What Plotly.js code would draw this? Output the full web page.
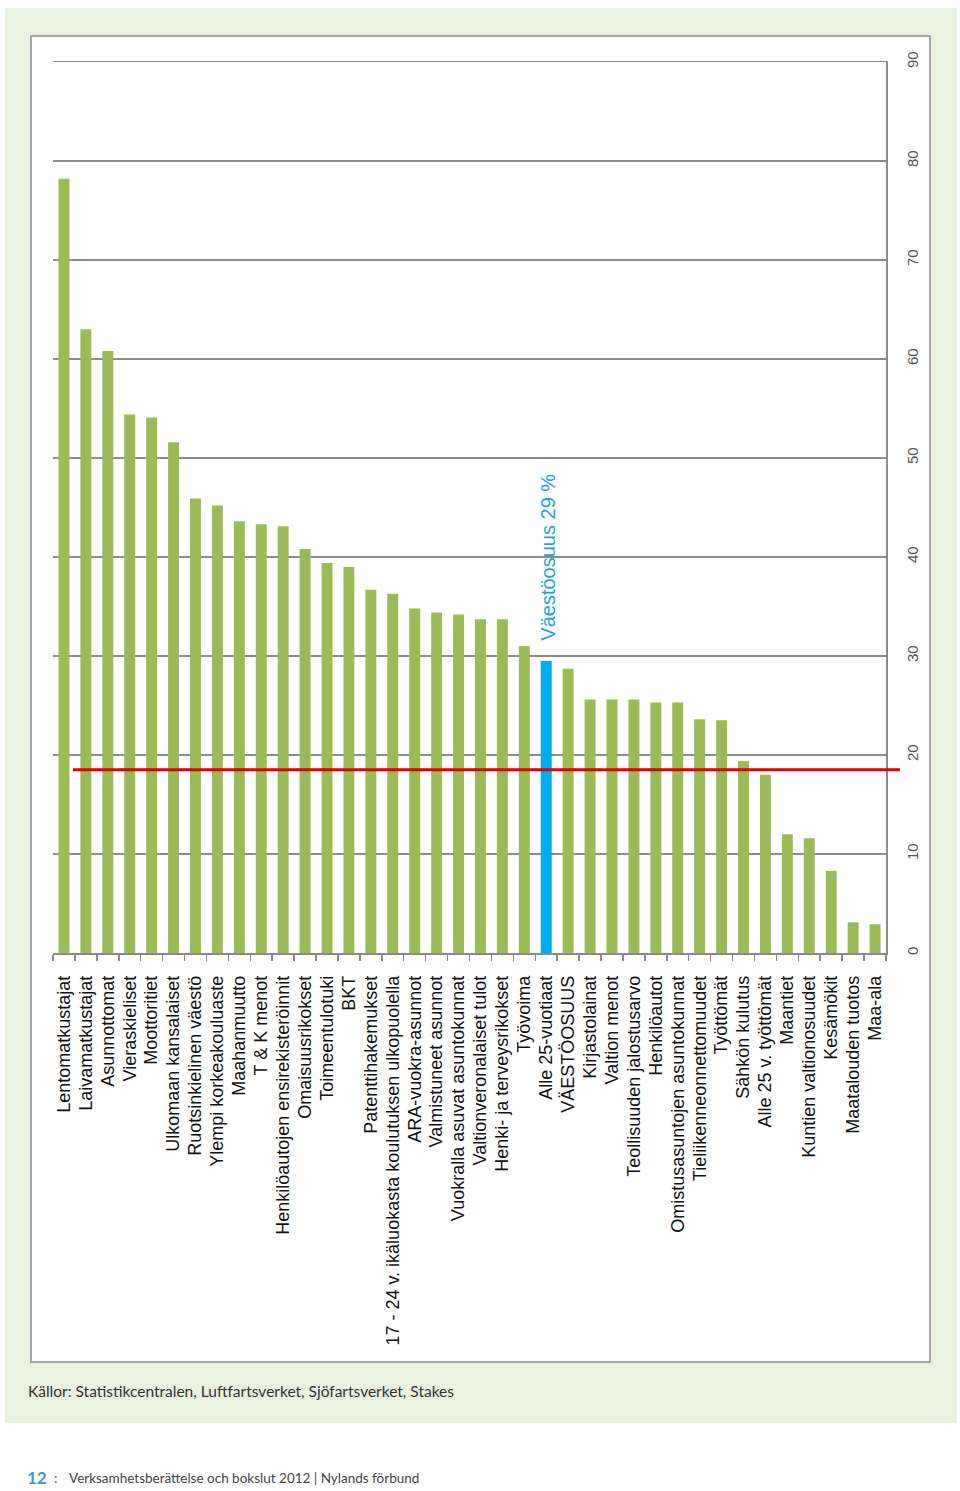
<!DOCTYPE html>
<html>
<head>
<meta charset="utf-8">
<script src="https://cdn.plot.ly/plotly-3.0.1.min.js"></script>
<style>
  html, body { margin: 0; padding: 0; background: #ffffff; }
  #chart { width: 960px; height: 1491px; }
</style>
</head>
<body>
<div id="chart"></div>
<script>
// ---- Data ----
const categories = [
  "Lentomatkustajat",
  "Laivamatkustajat",
  "Asunnottomat",
  "Vieraskieliset",
  "Moottoritiet",
  "Ulkomaan kansalaiset",
  "Ruotsinkielinen väestö",
  "Ylempi korkeakouluaste",
  "Maahanmuutto",
  "T & K menot",
  "Henkilöautojen ensirekisteröinnit",
  "Omaisuusrikokset",
  "Toimeentulotuki",
  "BKT",
  "Patenttihakemukset",
  "17 - 24 v. ikäluokasta koulutuksen ulkopuolella",
  "ARA-vuokra-asunnot",
  "Valmistuneet asunnot",
  "Vuokralla asuvat asuntokunnat",
  "Valtionveronalaiset tulot",
  "Henki- ja terveysrikokset",
  "Työvoima",
  "Alle 25-vuotiaat",
  "VÄESTÖOSUUS",
  "Kirjastolainat",
  "Valtion menot",
  "Teollisuuden jalostusarvo",
  "Henkilöautot",
  "Omistusasuntojen asuntokunnat",
  "Tieliikenneonnettomuudet",
  "Työttömät",
  "Sähkön kulutus",
  "Alle 25 v. työttömät",
  "Maantiet",
  "Kuntien valtionosuudet",
  "Kesämökit",
  "Maatalouden tuotos",
  "Maa-ala"
];
const values = [
  78.2, 63.0, 60.8, 54.4, 54.1, 51.6, 45.9, 45.2, 43.6, 43.3,
  43.1, 40.8, 39.4, 39.0, 36.7, 36.3, 34.8, 34.4, 34.2, 33.7,
  33.7, 31.0, 29.5, 28.7, 25.6, 25.6, 25.6, 25.3, 25.3, 23.6,
  23.5, 19.4, 18.0, 12.0, 11.6, 8.3, 3.1, 2.9
];
const highlightCategory = "Alle 25-vuotiaat";
const highlightLabel = "Väestöosuus 29 %";
const thresholdValue = 18.5;
const yTickValues = [0, 10, 20, 30, 40, 50, 60, 70, 80, 90];
const sourceText = "Källor: Statistikcentralen, Luftfartsverket, Sjöfartsverket, Stakes";
const pageNumber = "12";
const footerText = "Verksamhetsberättelse och bokslut 2012 | Nylands förbund";

// ---- Styles ----
const GREEN = "#9bbb59";
const BLUE = "#00adef";
const barColors = categories.map(c => c === highlightCategory ? BLUE : GREEN);
const highlightIndex = categories.indexOf(highlightCategory);

// plot area in pixels: x 53..886, y 62..953
const L = 53, R = 886, T = 62, B = 953, W = 960, H = 1491;
const px = x => (x - L) / (R - L);
const py = y => (B - y) / (B - T);

const trace = {
  type: "bar",
  x: categories,
  y: values,
  marker: { color: barColors, line: { width: 0 } },
  hoverinfo: "x+y"
};

const layout = {
  width: W,
  height: H,
  margin: { l: L, r: W - R, t: T, b: H - B, pad: 0 },
  paper_bgcolor: "#ffffff",
  plot_bgcolor: "rgba(0,0,0,0)",
  showlegend: false,
  bargap: 0.5,
  font: { family: "Liberation Sans, Arial, sans-serif", color: "#000" },
  xaxis: {
    type: "category",
    tickmode: "linear",
    tick0: 0,
    dtick: 1,
    tickangle: -90,
    tickfont: { family: "Liberation Sans, Arial, sans-serif", size: 18, color: "#111" },
    ticks: "outside",
    tickson: "boundaries",
    ticklen: 6,
    tickcolor: "#8a8a8a",
    tickwidth: 1.5,
    showline: true,
    mirror: true,
    linecolor: "#8a8a8a",
    linewidth: 1.5,
    showgrid: false,
    ticklabelstandoff: 14,
    automargin: false
  },
  yaxis: {
    side: "right",
    range: [0, 90],
    tickvals: yTickValues,
    ticktext: yTickValues.map(String),
    tickangle: -90,
    tickfont: { family: "Liberation Sans Narrow, Liberation Sans, Arial, sans-serif", size: 15, color: "#555" },
    ticks: "outside",
    ticklen: 12,
    tickcolor: "rgba(0,0,0,0)",
    showgrid: true,
    gridcolor: "#8c8c8c",
    gridwidth: 1.5,
    zeroline: false,
    showline: true,
    linecolor: "#8c8c8c",
    linewidth: 1.5,
    automargin: false
  },
  shapes: [
    // green panel
    { type: "rect", xref: "paper", yref: "paper", layer: "below",
      x0: px(5), x1: px(957), y0: py(1423), y1: py(8),
      fillcolor: "#e9f2df", line: { width: 0 } },
    // white chart box with grey border
    { type: "rect", xref: "paper", yref: "paper", layer: "below",
      x0: px(31), x1: px(930), y0: py(1362), y1: py(36),
      fillcolor: "#ffffff", line: { color: "#a6a6a6", width: 2 } },
    // red reference line
    { type: "line", xref: "paper", yref: "y", layer: "above",
      x0: px(73), x1: px(900), y0: thresholdValue, y1: thresholdValue,
      line: { color: "#e10000", width: 3 } }
  ],
  annotations: [
    { x: categories[highlightIndex], y: values[highlightIndex], xref: "x", yref: "y",
      text: highlightLabel, showarrow: false, textangle: -90,
      xanchor: "center", yanchor: "bottom", yshift: 18, xshift: 2,
      font: { family: "Liberation Sans, Arial, sans-serif", size: 20, color: "#1ea5dd" } },
    { x: px(26), y: py(1391), xref: "paper", yref: "paper",
      text: sourceText, showarrow: false, xanchor: "left", yanchor: "middle",
      font: { family: "Lato, Open Sans, sans-serif", size: 15.5, color: "#333" } },
    { x: px(25), y: py(1478), xref: "paper", yref: "paper",
      text: "<b>" + pageNumber + "</b>", showarrow: false, xanchor: "left", yanchor: "middle",
      font: { family: "Lato, Open Sans, sans-serif", size: 17, color: "#3a9cc7" } },
    { x: px(52), y: py(1478), xref: "paper", yref: "paper",
      text: ":", showarrow: false, xanchor: "left", yanchor: "middle",
      font: { family: "Lato, Open Sans, sans-serif", size: 14, color: "#555" } },
    { x: px(67), y: py(1478), xref: "paper", yref: "paper",
      text: footerText, showarrow: false, xanchor: "left", yanchor: "middle",
      font: { family: "Lato, Open Sans, sans-serif", size: 13.5, color: "#444" } }
  ]
};

Plotly.newPlot("chart", [trace], layout, { displayModeBar: false, staticPlot: true });
</script>
</body>
</html>
